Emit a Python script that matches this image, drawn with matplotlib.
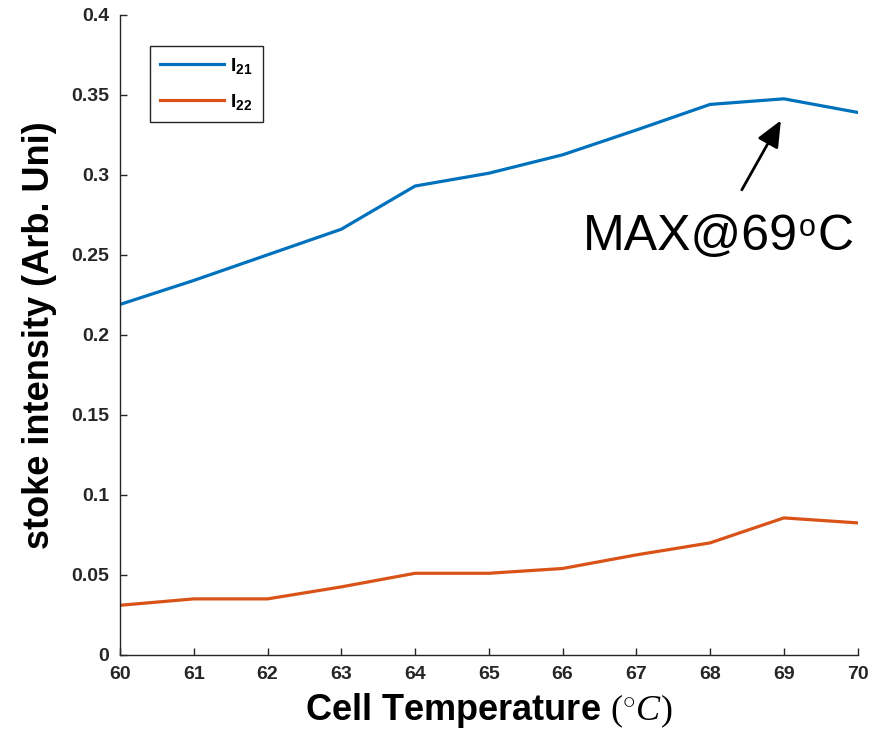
import matplotlib.pyplot as plt

plt.rcParams['font.family'] = ['Liberation Sans', 'DejaVu Sans']
plt.rcParams['mathtext.fontset'] = 'custom'
plt.rcParams['mathtext.rm'] = 'Liberation Serif'
plt.rcParams['mathtext.it'] = 'Liberation Serif:italic'
plt.rcParams['mathtext.bf'] = 'Liberation Sans:bold'
plt.rcParams['mathtext.sf'] = 'Liberation Sans'

temperature = [60, 61, 62, 63, 64, 65, 66, 67, 68, 69, 70]
i21 = [0.219, 0.234, 0.250, 0.266, 0.293, 0.301, 0.3125, 0.328, 0.344, 0.3475, 0.339]
i22 = [0.031, 0.035, 0.035, 0.0425, 0.051, 0.051, 0.054, 0.0625, 0.070, 0.0856, 0.0825]

xticks = list(range(60, 71))
yticks = [0, 0.05, 0.1, 0.15, 0.2, 0.25, 0.3, 0.35, 0.4]
ytick_labels = ['0', '0.05', '0.1', '0.15', '0.2', '0.25', '0.3', '0.35', '0.4']

axis_grey = '#262626'

fig = plt.figure(figsize=(8.76, 7.4), dpi=100)
ax = fig.add_axes([0.137, 0.115, 0.842, 0.865])

ax.plot(temperature, i21, color='#0072BD', lw=2.3, label=r'$\mathbf{I_{21}}$')
ax.plot(temperature, i22, color='#D95319', lw=2.3, label=r'$\mathbf{I_{22}}$')

ax.set_xlim(60, 70)
ax.set_ylim(0, 0.4)
ax.set_xticks(xticks)
ax.set_yticks(yticks)
ax.set_yticklabels(ytick_labels)

for side in ['top', 'right']:
    ax.spines[side].set_visible(False)
for side in ['left', 'bottom']:
    ax.spines[side].set_color(axis_grey)
    ax.spines[side].set_linewidth(1.0)

ax.tick_params(direction='in', length=5, width=1, colors=axis_grey,
               labelsize=14, pad=8)
for lab in ax.get_xticklabels() + ax.get_yticklabels():
    lab.set_fontweight('bold')
    lab.set_color(axis_grey)

ax.set_xlabel(r'Cell Temperature $(^{\circ}C)$', fontsize=26,
              fontweight='bold', labelpad=6)
ax.set_ylabel('stoke intensity (Arb. Uni)', fontsize=26,
              fontweight='bold', labelpad=10)

leg = ax.legend(loc='upper left', bbox_to_anchor=(0.04, 0.952), fontsize=14,
                handlelength=3.3, handletextpad=0.3, borderpad=0.55,
                labelspacing=0.8, fancybox=False, framealpha=1,
                borderaxespad=0)
leg.get_frame().set_edgecolor(axis_grey)
leg.get_frame().set_linewidth(1.0)

# arrow pointing at the I21 peak
ax.annotate('', xy=(68.96, 0.334), xytext=(68.43, 0.2906),
            arrowprops=dict(arrowstyle='-|>,head_length=0.8,head_width=0.35',
                            color='black', lw=2, mutation_scale=20,
                            shrinkA=0, shrinkB=0))

# "MAX@69°C" label, with a small raised "o" for the degree sign
label_y = 0.253
t_max = ax.text(66.27, label_y, 'MAX@69', fontsize=36,
                va='baseline', ha='left', color='black')
t_deg = ax.annotate('o', xy=(1, label_y), xycoords=(t_max, 'data'),
                    xytext=(1, 10), textcoords='offset points',
                    fontsize=22, va='baseline', ha='left', color='black')
ax.annotate('C', xy=(1, label_y), xycoords=(t_deg, 'data'),
            xytext=(1, 0), textcoords='offset points',
            fontsize=36, va='baseline', ha='left', color='black')

fig.savefig('out.png', dpi=100)
